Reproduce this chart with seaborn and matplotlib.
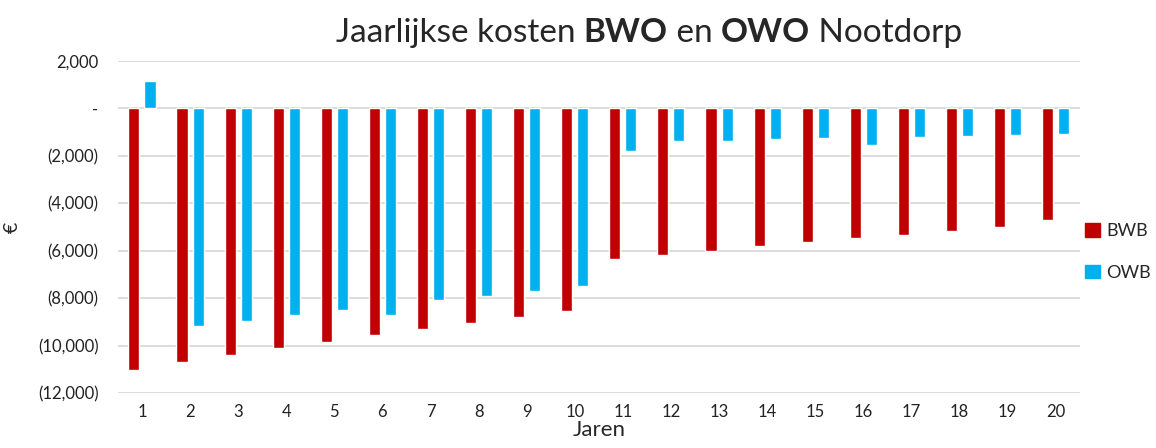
import pandas as pd
import numpy as np
import matplotlib
matplotlib.use("Agg")
import matplotlib.pyplot as plt
import seaborn as sns
from matplotlib.ticker import FuncFormatter
from matplotlib.patches import Patch

# jaarlijkse kosten per jaar (euro)
jaren = list(range(1, 21))
bwb = [-11000, -10690, -10390, -10110, -9830, -9550, -9280, -9020, -8790, -8520,
       -6350, -6170, -5990, -5810, -5650, -5480, -5320, -5160, -5010, -4710]
owb = [1130, -9160, -8940, -8720, -8490, -8700, -8090, -7890, -7690, -7500,
       -1790, -1385, -1360, -1300, -1260, -1540, -1200, -1160, -1120, -1080]
reeksen = ["BWB", "OWB"]
kleuren = ["#C00000", "#00B0F0"]
y_ticks = list(range(-12000, 2001, 2000))

df = pd.DataFrame({
    "jaar": jaren * 2,
    "kosten": bwb + owb,
    "reeks": [reeksen[0]] * len(jaren) + [reeksen[1]] * len(jaren),
})

sns.set_style("white")
plt.rcParams["font.family"] = ["Lato", "DejaVu Sans"]

fig = plt.figure(figsize=(11.56, 4.48), dpi=100)
ax = fig.add_axes([0.102, 0.122, 0.832, 0.7425])

sns.barplot(data=df, x="jaar", y="kosten", hue="reeks", hue_order=reeksen,
            palette=kleuren, width=0.667, gap=0.31, saturation=1,
            errorbar=None, ax=ax, legend=False)

ax.set_ylim(-12000, 2000)
ax.set_yticks(y_ticks)


def euro_fmt(v, pos):
    if v == 0:
        return "-"
    if v < 0:
        return "({:,.0f})".format(-v)
    return "{:,.0f}".format(v)


ax.yaxis.set_major_formatter(FuncFormatter(euro_fmt))
ax.grid(axis="y", color="#D9D9D9", linewidth=1.3)
ax.set_axisbelow(True)
for s in ax.spines.values():
    s.set_visible(False)
ax.tick_params(axis="both", length=0, labelsize=12, labelcolor="#222222")
ax.tick_params(axis="y", pad=14)
ax.tick_params(axis="x", pad=8)
ax.set_xlabel("Jaren", fontsize=16, labelpad=0)
ax.set_ylabel("€", fontsize=14, labelpad=12)

# legenda
handles = [Patch(color=c) for c in kleuren]
ax.legend(handles, reeksen, loc="center left", bbox_to_anchor=(1.0, 0.425),
          frameon=False, fontsize=13, handlelength=0.8, handleheight=0.8,
          handletextpad=0.35, labelspacing=1.4, borderaxespad=0.1, borderpad=0.2)

# titel met vetgedrukte delen
delen = [("Jaarlijkse kosten ", "normal"), ("BWO", "bold"), (" en ", "normal"),
         ("OWO", "bold"), (" Nootdorp", "normal")]
fig.canvas.draw()
r = fig.canvas.get_renderer()
breedtes = []
for tekst, gewicht in delen:
    t = fig.text(0, 0, tekst, fontsize=24, fontweight=gewicht)
    breedtes.append(t.get_window_extent(r).width)
    t.remove()
x = 649 - sum(breedtes) / 2
for (tekst, gewicht), b in zip(delen, breedtes):
    fig.text(x / 1156, 1 - 42 / 448, tekst, fontsize=24, fontweight=gewicht,
             va="baseline", ha="left")
    x += b

fig.savefig("out.png", dpi=100)
